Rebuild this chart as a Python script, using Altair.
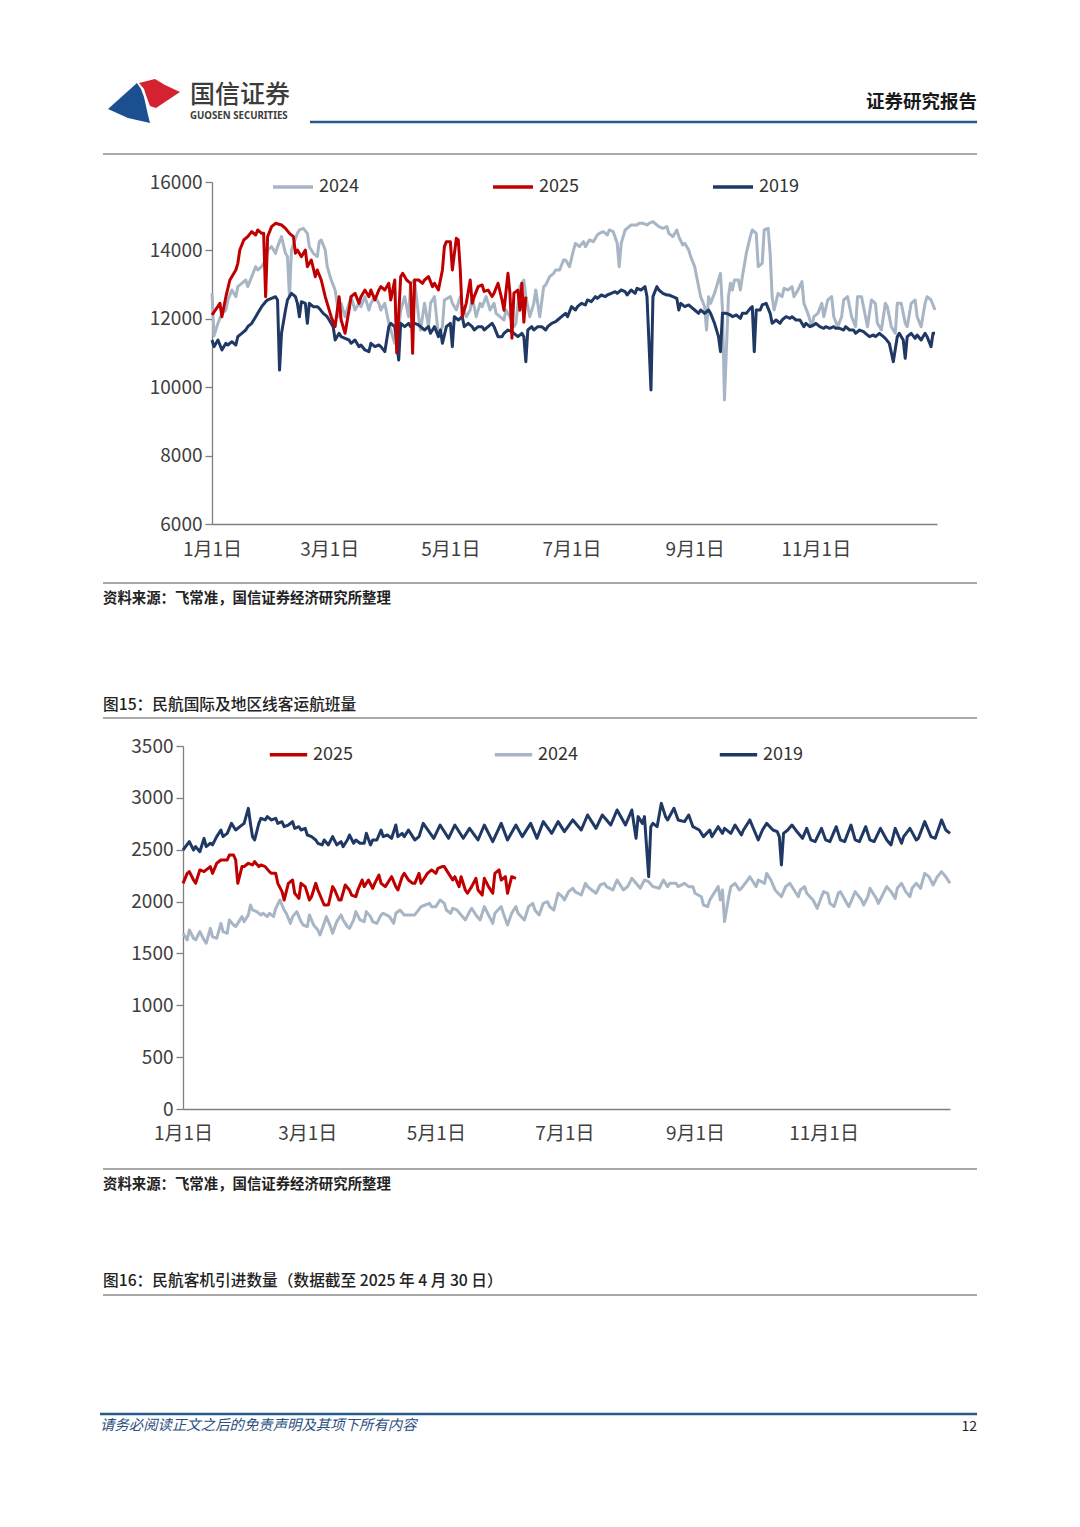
import altair as alt
import pandas as pd

FONT = "Noto Sans CJK SC"

# ---------------- tick labels ----------------
X_TICK_DAYS = [0, 59, 120, 181, 243, 304]
X_TICK_LABELS = ["1月1日", "3月1日", "5月1日", "7月1日", "9月1日", "11月1日"]
Y1_TICKS = [6000, 8000, 10000, 12000, 14000, 16000]
Y2_TICKS = [0, 500, 1000, 1500, 2000, 2500, 3000, 3500]

# ---------------- chart 1 data (day of year, value) ----------------
C1_2019_DAY = [0, 1, 3, 5, 7, 8, 10, 12, 13, 15, 17, 18, 20, 22, 23, 25, 27, 28, 30, 32, 33, 34, 35, 37, 38, 40, 42, 43, 44, 45,
               47, 48, 49, 51, 53, 54, 56, 58, 59, 61, 62, 64, 65, 67, 69, 70, 72, 74, 75, 77, 79, 80, 82, 84, 85, 87, 89, 90, 92, 94,
               95, 97, 99, 100, 102, 104, 105, 107, 109, 110, 112, 114, 115, 116, 118, 120, 121, 122, 124, 126, 127, 129, 131, 132, 134, 136, 137, 139, 141, 142,
               144, 146, 147, 149, 151, 152, 154, 156, 157, 158, 159, 161, 162, 164, 166, 168, 169, 171, 173, 174, 176, 178, 179, 181, 183, 184, 186, 188, 189, 191,
               193, 194, 196, 198, 199, 201, 203, 204, 206, 208, 209, 211, 213, 214, 216, 218, 219, 221, 222, 224, 225, 227, 229, 230, 232, 234, 235, 236, 238, 240,
               241, 243, 245, 246, 248, 250, 251, 253, 255, 256, 257, 259, 261, 262, 264, 266, 267, 269, 271, 272, 273, 274, 276, 277, 279, 281, 282, 284, 286, 287,
               289, 291, 292, 294, 296, 298, 299, 301, 303, 304, 306, 308, 309, 311, 313, 314, 316, 318, 319, 321, 323, 324, 326, 328, 329, 331, 333, 334, 336, 338,
               339, 341, 343, 345, 346, 348, 349, 350, 352, 354, 355, 357, 359, 360, 362, 363, 364]
C1_2019_VAL = [11380, 11185, 11380, 11088, 11283, 11234, 11331, 11234, 11478, 11575, 11672, 11770, 11868, 12062, 12160, 12355, 12500, 12550, 12600, 12647, 12550, 10500, 11575, 12257, 12550, 12745, 12647, 12452, 12062, 12501,
               12452, 11868, 12452, 12355, 12355, 12306, 12160, 12062, 11965, 11770, 11380, 11575, 11478, 11429, 11380, 11283, 11380, 11185, 11234, 11088, 11039, 11283, 11185, 11234, 11185, 11039, 11770, 11868, 11770, 10795,
               11868, 11770, 11868, 11770, 11868, 11819, 11770, 11672, 11770, 11575, 11770, 11478, 11672, 11283, 11770, 11868, 11185, 12062, 11965, 12062, 11770, 11868, 11770, 11672, 11770, 11770, 11672, 11770, 11868, 11770,
               11478, 11478, 11575, 11672, 11624, 11575, 11478, 11575, 11478, 10747, 11672, 11770, 11672, 11770, 11770, 11672, 11770, 11868, 11916, 11965, 12062, 12160, 12062, 12355, 12257, 12355, 12452, 12404, 12550, 12501,
               12647, 12598, 12696, 12647, 12696, 12745, 12793, 12745, 12842, 12793, 12696, 12842, 12745, 12891, 12842, 12940, 12647, 9918, 12647, 12940, 12842, 12745, 12696, 12696, 12647, 12598, 12257, 12452, 12355, 12404,
               12355, 12257, 12160, 12257, 12160, 12257, 12160, 11868, 11478, 11039, 12160, 12160, 12111, 12062, 12111, 12014, 12160, 12160, 12306, 12355, 11039, 12257, 12257, 12404, 12452, 12160, 11868, 11965, 11868, 11965,
               12062, 12014, 12062, 11965, 11965, 11770, 11868, 11770, 11819, 11868, 11770, 11721, 11770, 11721, 11770, 11721, 11721, 11672, 11770, 11672, 11672, 11575, 11672, 11624, 11575, 11478, 11526, 11478, 11575, 11478,
               11429, 11283, 10747, 11478, 11575, 11380, 10844, 11478, 11575, 11429, 11526, 11380, 11575, 11478, 11185, 11575, 11575]

C1_2024_DAY = [0, 1, 3, 5, 7, 8, 10, 12, 13, 15, 17, 18, 20, 22, 23, 25, 27, 28, 30, 32, 33, 35, 37, 38, 39, 40, 43, 44, 46, 48,
               49, 51, 53, 54, 55, 57, 58, 60, 62, 64, 65, 67, 69, 70, 72, 74, 75, 77, 79, 80, 82, 84, 85, 87, 89, 90, 92, 94, 95, 97,
               99, 100, 102, 104, 105, 107, 109, 110, 112, 114, 116, 117, 120, 121, 123, 125, 126, 128, 130, 131, 133, 135, 136, 138, 140, 142, 143, 145, 147, 148,
               150, 152, 153, 155, 157, 158, 160, 162, 163, 165, 167, 168, 170, 172, 173, 175, 177, 178, 180, 182, 183, 185, 187, 188, 190, 192, 194, 195, 197, 199,
               200, 202, 204, 205, 206, 208, 209, 211, 214, 215, 217, 219, 220, 222, 224, 225, 227, 229, 230, 232, 234, 235, 237, 238, 240, 241, 243, 245, 246, 248,
               249, 250, 251, 253, 255, 256, 257, 258, 260, 261, 262, 263, 265, 266, 267, 269, 271, 272, 274, 275, 277, 278, 280, 281, 282, 283, 285, 287, 288, 290,
               292, 293, 295, 297, 298, 300, 302, 303, 305, 307, 308, 310, 312, 313, 315, 317, 318, 320, 322, 324, 325, 327, 329, 330, 332, 334, 335, 337, 339, 340,
               342, 344, 345, 347, 349, 350, 352, 354, 355, 357, 359, 360, 362, 364]
C1_2024_VAL = [12750, 11500, 11868, 12160, 12257, 12550, 12842, 12647, 12940, 13037, 13134, 12940, 13232, 13525, 13427, 13525, 13719, 14012, 14109, 13914, 14109, 14402, 13914, 13817, 12647, 14012, 14499, 14597, 14645, 14499,
               14109, 13914, 13817, 14255, 14304, 14012, 13525, 13134, 12842, 12062, 12452, 12062, 12452, 12647, 12257, 12452, 12355, 12647, 12257, 12452, 12647, 12452, 12257, 12452, 11868, 11672, 11283, 11672, 12257, 12647,
               12062, 13037, 13134, 12062, 11672, 12452, 11770, 12452, 12647, 11478, 11770, 12550, 12647, 12452, 12257, 12647, 12355, 12062, 12257, 12647, 12062, 12452, 12355, 12647, 12257, 12452, 12160, 12062, 11965, 12257,
               12062, 11770, 11868, 12940, 13134, 12647, 12062, 12452, 12842, 12062, 12940, 12988, 13232, 13330, 13427, 13427, 13719, 13719, 13525, 14012, 14207, 14109, 14255, 14109, 14304, 14255, 14450, 14499, 14548, 14450,
               14597, 14548, 14207, 13525, 14207, 14597, 14645, 14743, 14743, 14792, 14792, 14743, 14792, 14840, 14743, 14694, 14645, 14694, 14499, 14402, 14597, 14402, 14158, 14207, 14012, 13817, 13525, 12940, 12647, 12355,
               11672, 12647, 12452, 12745, 13134, 13330, 12257, 9626, 12647, 13037, 12842, 13134, 13134, 12842, 13232, 13914, 14402, 14597, 14499, 13525, 13622, 14597, 14645, 13914, 12647, 12257, 12745, 12647, 12891, 12842,
               12940, 12647, 12842, 13086, 12452, 12160, 11770, 12062, 12160, 12452, 12062, 12550, 12647, 12062, 11770, 12062, 12550, 12647, 12062, 11770, 12647, 12647, 12062, 11770, 12550, 12452, 11868, 11672, 12452, 12355,
               11770, 11575, 12452, 12452, 11868, 11770, 12452, 12550, 12062, 11770, 12452, 12647, 12550, 12257]

C1_2025_DAY = [0, 4, 5, 7, 9, 12, 13, 14, 16, 18, 20, 22, 23, 25, 26, 27, 28, 30, 32, 35, 37, 39, 41, 42, 43, 45, 47, 48, 50, 52,
               53, 55, 57, 58, 60, 62, 64, 65, 67, 69, 70, 72, 74, 75, 77, 79, 80, 82, 84, 85, 87, 89, 90, 92, 93, 95, 96, 98, 100, 101,
               102, 104, 106, 107, 109, 111, 112, 114, 116, 117, 118, 120, 121, 123, 124, 125, 126, 128, 130, 131, 132, 134, 136, 137, 139, 141, 142, 144, 146, 147,
               149, 150, 151, 152, 154, 155, 156, 157, 158]
C1_2025_VAL = [12111, 12452, 12062, 12647, 13134, 13427, 13622, 14012, 14304, 14402, 14548, 14450, 14597, 14499, 14499, 12647, 14402, 14694, 14792, 14743, 14645, 14499, 14402, 13914, 14012, 13817, 14012, 13525, 13719, 13232,
               13427, 13134, 12647, 12452, 12062, 11770, 12647, 11965, 11575, 12257, 12647, 12745, 12452, 12647, 12842, 12647, 12842, 12550, 12842, 12940, 12842, 13037, 12550, 13134, 11000, 13232, 13330, 13134, 13037, 10990,
               13134, 13134, 13037, 13134, 13232, 12940, 13037, 12842, 13427, 14109, 14255, 14255, 13427, 14353, 14304, 13427, 12062, 12452, 13134, 12452, 12647, 12940, 12990, 12800, 12840, 12650, 12750, 13040, 12550, 12250,
               13330, 12750, 11430, 12750, 12840, 12250, 13040, 11900, 12650]

# ---------------- chart 2 data (day of year, value) ----------------
C2_2019_DAY = [0, 3, 5, 6, 8, 10, 11, 13, 14, 16, 18, 19, 21, 23, 25, 27, 29, 31, 32, 33, 34, 36, 37, 39, 40, 42, 44, 45, 47, 48,
               50, 52, 53, 55, 56, 58, 59, 61, 63, 64, 66, 67, 69, 71, 73, 75, 76, 78, 79, 81, 82, 84, 86, 87, 89, 90, 92, 94, 95, 97,
               99, 101, 102, 104, 105, 107, 109, 110, 112, 114, 119, 122, 126, 129, 133, 136, 140, 143, 147, 151, 154, 158, 161, 165, 168, 171, 175, 178, 181, 185,
               189, 192, 196, 199, 203, 206, 210, 213, 215, 216, 218, 219, 221, 222, 223, 225, 227, 229, 230, 233, 235, 238, 240, 242, 245, 247, 250, 251, 254, 256,
               257, 260, 262, 265, 266, 269, 271, 273, 275, 277, 280, 282, 283, 284, 285, 287, 289, 292, 294, 296, 298, 300, 303, 305, 307, 310, 312, 314, 317, 319,
               321, 324, 326, 328, 331, 334, 336, 338, 341, 342, 345, 348, 349, 352, 355, 357, 360, 362, 364]
C2_2019_VAL = [2497, 2578, 2497, 2530, 2481, 2610, 2530, 2562, 2546, 2626, 2690, 2626, 2658, 2754, 2690, 2722, 2754, 2899, 2754, 2626, 2594, 2754, 2803, 2787, 2819, 2787, 2803, 2754, 2770, 2722,
               2738, 2770, 2706, 2722, 2690, 2706, 2642, 2626, 2594, 2562, 2546, 2594, 2546, 2626, 2546, 2578, 2530, 2594, 2642, 2562, 2594, 2562, 2562, 2658, 2546, 2594, 2594, 2690, 2626, 2642,
               2610, 2738, 2626, 2658, 2626, 2690, 2626, 2594, 2626, 2754, 2610, 2738, 2610, 2738, 2610, 2706, 2594, 2738, 2578, 2754, 2594, 2738, 2626, 2754, 2610, 2771, 2658, 2771, 2674, 2787,
               2690, 2835, 2706, 2835, 2738, 2883, 2738, 2883, 2610, 2819, 2754, 2819, 2240, 2722, 2754, 2722, 2947, 2819, 2787, 2899, 2787, 2771, 2835, 2722, 2690, 2626, 2690, 2626, 2722, 2658,
               2706, 2658, 2738, 2642, 2690, 2787, 2690, 2594, 2690, 2754, 2690, 2674, 2626, 2353, 2658, 2690, 2738, 2658, 2610, 2706, 2594, 2578, 2706, 2594, 2578, 2722, 2594, 2578, 2738, 2594,
               2578, 2722, 2594, 2578, 2706, 2594, 2546, 2706, 2562, 2626, 2706, 2594, 2610, 2771, 2626, 2610, 2787, 2690, 2658]

C2_2024_DAY = [0, 2, 3, 5, 6, 8, 10, 11, 13, 14, 16, 18, 19, 21, 22, 24, 25, 28, 29, 31, 32, 33, 35, 37, 38, 40, 41, 43, 44, 46,
               48, 49, 51, 52, 54, 56, 57, 59, 60, 62, 64, 65, 67, 68, 70, 71, 73, 75, 76, 78, 79, 81, 82, 84, 86, 87, 89, 90, 92, 94,
               95, 98, 100, 101, 103, 105, 108, 110, 113, 115, 117, 118, 120, 122, 124, 125, 127, 128, 130, 132, 134, 136, 137, 139, 141, 143, 145, 147, 148, 151,
               152, 154, 156, 158, 159, 162, 164, 166, 167, 169, 171, 173, 174, 176, 178, 180, 181, 183, 185, 186, 189, 191, 192, 194, 196, 198, 200, 201, 204, 206,
               208, 209, 211, 213, 215, 217, 219, 221, 223, 226, 228, 230, 231, 234, 235, 238, 240, 242, 243, 246, 247, 249, 250, 252, 254, 255, 256, 257, 259, 260,
               262, 264, 265, 268, 269, 272, 273, 276, 277, 279, 281, 284, 286, 288, 290, 292, 293, 295, 296, 299, 301, 303, 304, 306, 307, 309, 311, 312, 315, 316,
               318, 319, 322, 323, 325, 326, 329, 330, 332, 334, 336, 338, 339, 341, 343, 345, 346, 348, 350, 352, 354, 356, 358, 360, 362, 364]
C2_2024_VAL = [1694, 1630, 1726, 1646, 1630, 1710, 1630, 1598, 1742, 1662, 1646, 1790, 1710, 1694, 1823, 1774, 1758, 1855, 1807, 1871, 1967, 1919, 1903, 1871, 1887, 1855, 1887, 1855, 1935, 2015,
               1919, 1887, 1790, 1855, 1903, 1807, 1774, 1758, 1871, 1774, 1726, 1678, 1790, 1855, 1758, 1694, 1807, 1871, 1823, 1758, 1742, 1823, 1903, 1823, 1807, 1903, 1855, 1807, 1790, 1871,
               1887, 1855, 1790, 1887, 1919, 1871, 1871, 1871, 1951, 1967, 1983, 1951, 1951, 2015, 1983, 1919, 1887, 1935, 1919, 1871, 1823, 1903, 1935, 1871, 1823, 1951, 1871, 1790, 1887, 1951,
               1887, 1774, 1887, 1951, 1887, 1823, 1951, 1983, 1919, 1871, 1983, 1999, 1951, 1919, 2080, 2047, 2015, 2096, 2128, 2096, 2063, 2176, 2144, 2112, 2080, 2160, 2176, 2144, 2112, 2208,
               2144, 2112, 2144, 2224, 2176, 2128, 2208, 2192, 2144, 2128, 2208, 2144, 2176, 2176, 2144, 2176, 2144, 2144, 2080, 2047, 1967, 1951, 2015, 2080, 2144, 2015, 2112, 1807, 2047, 2144,
               2176, 2112, 2128, 2208, 2240, 2144, 2208, 2176, 2272, 2208, 2112, 2047, 2144, 2176, 2112, 2047, 2112, 2144, 2080, 2015, 1935, 2047, 2096, 2080, 1983, 1951, 2080, 2096, 1983, 1951,
               2047, 2096, 2015, 1967, 2047, 2128, 2031, 1983, 2063, 2144, 2096, 2031, 2128, 2176, 2096, 2047, 2128, 2176, 2128, 2272, 2240, 2160, 2240, 2289, 2240, 2176]

C2_2025_DAY = [0, 2, 3, 5, 6, 8, 10, 11, 13, 14, 16, 18, 19, 21, 22, 24, 25, 26, 28, 29, 31, 33, 34, 36, 37, 39, 41, 42, 44, 45,
               47, 48, 50, 52, 53, 55, 56, 58, 60, 61, 63, 64, 66, 67, 69, 71, 72, 74, 75, 77, 79, 80, 82, 83, 85, 86, 88, 90, 91, 93,
               94, 96, 98, 99, 101, 102, 104, 105, 107, 109, 110, 112, 113, 115, 116, 118, 120, 121, 123, 124, 126, 128, 129, 131, 132, 134, 135, 137, 139, 140,
               142, 143, 145, 147, 148, 150, 151, 153, 154, 156, 158]
C2_2025_VAL = [2176, 2272, 2289, 2208, 2176, 2305, 2289, 2305, 2337, 2272, 2369, 2401, 2401, 2401, 2449, 2449, 2401, 2176, 2337, 2337, 2369, 2353, 2385, 2337, 2353, 2337, 2289, 2272, 2272, 2176,
               2096, 2015, 2176, 2208, 2080, 2031, 2176, 2144, 2015, 2047, 2176, 2112, 2015, 1967, 1967, 2144, 2112, 2015, 2015, 2160, 2112, 2063, 2047, 2112, 2208, 2144, 2208, 2128, 2176, 2256,
               2176, 2144, 2208, 2240, 2144, 2112, 2240, 2272, 2208, 2176, 2176, 2272, 2176, 2240, 2272, 2305, 2272, 2321, 2337, 2337, 2272, 2208, 2240, 2144, 2240, 2112, 2080, 2144, 2224, 2112,
               2063, 2224, 2144, 2080, 2272, 2305, 2208, 2240, 2080, 2240, 2224]

C_RED = "#c00000"
C_GRAY = "#a7b5c4"
C_NAVY = "#1f3864"

W, H = 1064, 1511  # drawing area = page minus 8px margin


def frame(days, vals, name):
    return pd.DataFrame({"day": days, "value": vals, "series": name})


label_expr = " : ".join(f"datum.value == {d} ? '{t}'" for d, t in zip(X_TICK_DAYS, X_TICK_LABELS)) + " : ''"

AXIS_STYLE = dict(grid=False, title=None, domainColor="#7f7f7f", domainWidth=1.3,
                  tickColor="#7f7f7f", tickWidth=1.3, labelFont=FONT, labelFontSize=19,
                  labelColor="#404040")


def line_chart(series, x_dom, x_rng, y_dom, y_rng, y_ticks, y_axis_x, x_axis_y, x_lab_pad,
               leg_order, leg_colors, leg_x, leg_y, col_pad, sym_size):
    xs = alt.Scale(domain=x_dom, range=x_rng, nice=False, zero=False)
    ys = alt.Scale(domain=y_dom, range=y_rng, nice=False, zero=False)
    xa = alt.Axis(orient="bottom", offset=-(H - x_axis_y), values=X_TICK_DAYS, labelExpr=label_expr,
                  ticks=False, labelPadding=x_lab_pad, labelFlush=False, labelOverlap=False,
                  labelBound=False, **AXIS_STYLE)
    ya = alt.Axis(orient="left", offset=-y_axis_x, values=y_ticks, format="d", tickSize=7,
                  labelPadding=3, labelOverlap=False, **AXIS_STYLE)
    cs = alt.Scale(domain=leg_order, range=leg_colors)
    lg = alt.Legend(orient="none", legendX=leg_x, legendY=leg_y, direction="horizontal", title=None,
                    symbolType="stroke", symbolSize=sym_size, symbolStrokeWidth=3.5, labelFont=FONT,
                    labelFontSize=18, labelColor="#333333", labelOffset=4, columnPadding=col_pad,
                    padding=0)
    layers = []
    for df in series:
        layers.append(
            alt.Chart(df).mark_line(strokeWidth=3, strokeJoin="round", clip=True).encode(
                x=alt.X("day:Q", scale=xs, axis=xa),
                y=alt.Y("value:Q", scale=ys, axis=ya),
                color=alt.Color("series:N", scale=cs, legend=lg),
            )
        )
    return alt.layer(*layers)


chart1 = line_chart(
    [frame(C1_2024_DAY, C1_2024_VAL, "2024"), frame(C1_2019_DAY, C1_2019_VAL, "2019"),
     frame(C1_2025_DAY, C1_2025_VAL, "2025")],
    [0, 365], [204, 929], [6000, 16000], [516, 174], Y1_TICKS, 204, 516, 16,
    ["2024", "2025", "2019"], [C_GRAY, C_RED, C_NAVY], 263, 157, 127, 1600)

chart2 = line_chart(
    [frame(C2_2024_DAY, C2_2024_VAL, "2024"), frame(C2_2019_DAY, C2_2019_VAL, "2019"),
     frame(C2_2025_DAY, C2_2025_VAL, "2025")],
    [0, 364], [175, 942], [0, 3500], [1101, 738], Y2_TICKS, 175, 1101, 15,
    ["2025", "2024", "2019"], [C_RED, C_GRAY, C_NAVY], 260, 726, 134, 1400)

# ---------------- page decorations ----------------
one = pd.DataFrame({"k": [0]})


def text(t, x, y, size, color="#333333", weight="normal", align="left", italic=False, font=FONT):
    return alt.Chart(one).mark_text(text=t, align=align, baseline="middle", fontSize=size,
                                    fontWeight=weight, color=color, font=font,
                                    fontStyle="italic" if italic else "normal").encode(
        x=alt.value(x), y=alt.value(y))


def hline(x1, x2, y, color, w):
    return alt.Chart(one).mark_rule(color=color, strokeWidth=w).encode(
        x=alt.value(x1), x2=alt.value(x2), y=alt.value(y))


LOGO_BLUE = "M-0.96,0.24 L-0.187,-0.453 L-0.08,-0.293 L0,-0.08 L0.053,0.16 L0.107,0.4 L0.16,0.613 L-0.427,0.48 Z"
LOGO_RED = "M-0.133,-0.453 L0.293,-0.56 L0.56,-0.4 L0.96,-0.213 L0.32,0.213 L0.16,0.16 L0.08,-0.053 L0,-0.293 Z"


def logo(path, color):
    return alt.Chart(one).mark_point(shape=path, size=5625, filled=True, fill=color, opacity=1,
                                     strokeWidth=0).encode(x=alt.value(136), y=alt.value(92))


GRAY_LINE = "#8c8c8c"
BLUE_LINE = "#245a8c"

decor = [
    logo(LOGO_BLUE, "#1b4f8f"),
    logo(LOGO_RED, "#d42230"),
    text("国信证券", 182, 87, 25, color="#3c3c3c", weight=500),
    text("GUOSEN SECURITIES", 182, 108, 9.7, color="#3c3c3c", weight="bold", font="Noto Sans"),
    text("证券研究报告", 969, 94, 18.5, color="#1a1a1a", weight="bold", align="right"),
    hline(302, 969, 114, BLUE_LINE, 2.5),
    hline(95, 969, 146, GRAY_LINE, 1.5),
    hline(95, 969, 575, GRAY_LINE, 1.5),
    text("资料来源：飞常准，国信证券经济研究所整理", 95, 591, 14.4, color="#222222", weight="bold"),
    text("图15：民航国际及地区线客运航班量", 95, 697, 15.7, color="#222222", weight=500),
    hline(95, 969, 710, GRAY_LINE, 1.5),
    hline(95, 969, 1161, GRAY_LINE, 1.5),
    text("资料来源：飞常准，国信证券经济研究所整理", 95, 1177, 14.4, color="#222222", weight="bold"),
    text("图16：民航客机引进数量（数据截至 2025 年 4 月 30 日）", 95, 1273, 15.7, color="#222222", weight=500),
    hline(95, 969, 1287, GRAY_LINE, 1.5),
    hline(92, 969, 1406, BLUE_LINE, 2.5),
    text("请务必阅读正文之后的免责声明及其项下所有内容", 92, 1418, 14.4, color="#2b4f80", italic=True),
    text("12", 969, 1419, 14, color="#222222", align="right"),
]

chart = alt.layer(*decor, chart1, chart2).resolve_scale(
    x="independent", y="independent", color="independent"
).properties(
    width=W, height=H, padding=0, autosize=alt.AutoSizeParams(type="none")
).configure(background="white").configure_view(stroke=None)

chart.save("out.html", embed_options={"renderer": "svg", "actions": False})
